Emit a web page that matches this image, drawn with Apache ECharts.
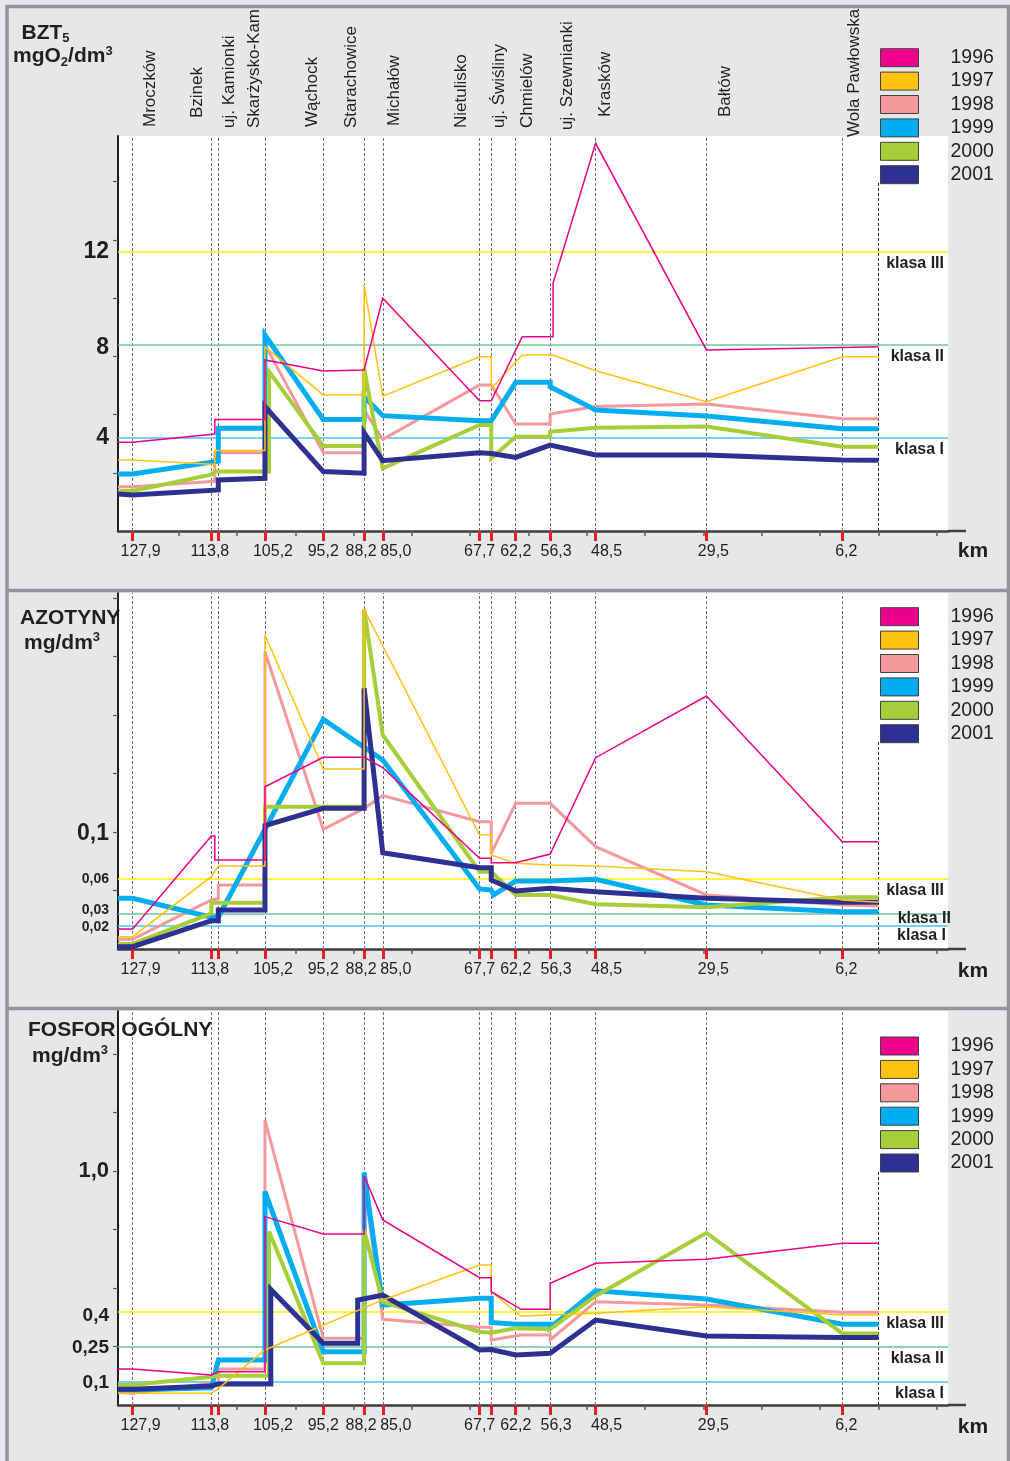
<!DOCTYPE html>
<html><head><meta charset="utf-8">
<script src="https://cdn.jsdelivr.net/npm/echarts@6.0.0/dist/echarts.min.js"></script>
<style>html,body{margin:0;padding:0;background:#e6e7e8}#c{width:1010px;height:1461px}</style>
</head><body><div id="c"></div>
<script>
// ---------------- DATA ----------------
const years = ['1996','1997','1998','1999','2000','2001'];
const stationKm = [127.9, 114.4, 113.2, 105.2, 95.2, 88.2, 85.0, 68.4, 66.4, 62.2, 56.3, 48.5, 29.5, 6.2];
const stationNames = ['Mroczków','Bzinek','uj. Kamionki','Skarżysko-Kam.','Wąchock','Starachowice','Michałów','Nietulisko','uj. Świśliny','Chmielów','uj. Szewnianki','Krasków','Bałtów','Wola Pawłowska'];
const kmLabelValues = [127.9, 113.8, 105.2, 95.2, 88.2, 85.0, 67.7, 62.2, 56.3, 48.5, 29.5, 6.2];
const kmLabels = ['127,9','113,8','105,2','95,2','88,2','85,0','67,7','62,2','56,3','48,5','29,5','6,2'];
const kmGridTicks = [120,110,100,90,80,70,60,50,40,30,20,10,0,-10];
const classNames = ['klasa III','klasa II','klasa I'];

// BZT5 [km, mgO2/dm3]
const bzt1996 = [[130.4,3.81],[127.9,3.81],[113.8,4.16],[113.8,4.79],[105.2,4.79],[105.2,7.34],[95.2,6.87],[88.2,6.91],[85.0,9.99],[68.4,5.59],[66.4,5.59],[61.1,8.34],[55.8,8.34],[55.8,10.63],[48.5,16.64],[29.5,7.77],[6.2,7.88],[0,7.91]];
const bzt1997 = [[130.4,3.05],[127.9,3.05],[114.4,2.86],[113.8,2.86],[113.8,3.45],[105.2,3.45],[105.2,7.9],[95.2,5.84],[88.2,5.84],[88.2,10.56],[85.0,5.79],[68.4,7.48],[66.4,7.48],[66.4,6.12],[61.1,7.55],[55.8,7.55],[48.5,6.88],[29.5,5.55],[6.2,7.48],[0,7.48]];
const bzt1998 = [[130.4,1.90],[127.9,1.90],[114.4,2.12],[113.8,2.12],[113.8,3.36],[105.2,3.36],[105.2,8.0],[95.2,3.36],[88.2,3.36],[88.2,5.19],[85.0,3.93],[68.4,6.27],[66.4,6.27],[62.2,4.59],[56.3,4.59],[56.3,5.02],[48.5,5.34],[29.5,5.45],[6.2,4.82],[0,4.82]];
const bzt1999 = [[130.4,2.45],[127.9,2.45],[113.2,3.0],[113.2,4.41],[105.2,4.41],[105.2,8.41],[95.2,4.79],[88.2,4.79],[88.2,5.77],[85.0,4.95],[68.4,4.73],[66.4,4.73],[62.2,6.38],[56.3,6.38],[56.3,6.19],[48.5,5.19],[29.5,4.94],[6.2,4.39],[0,4.39]];
const bzt2000 = [[130.4,1.72],[127.9,1.72],[114.4,2.42],[113.8,2.55],[104.5,2.55],[104.5,6.84],[95.2,3.65],[88.2,3.65],[88.2,6.98],[85.0,2.69],[68.4,4.55],[66.4,4.55],[66.4,3.12],[62.2,4.05],[56.3,4.05],[56.3,4.26],[48.5,4.43],[29.5,4.48],[6.2,3.62],[0,3.62]];
const bzt2001 = [[130.4,1.59],[127.9,1.55],[113.2,1.76],[113.2,2.19],[105.2,2.26],[105.2,5.34],[95.2,2.55],[88.2,2.48],[88.2,4.22],[85.0,3.02],[68.4,3.36],[66.4,3.33],[62.2,3.16],[56.3,3.69],[48.5,3.26],[29.5,3.26],[6.2,3.05],[0,3.04]];
const bztClass = [12, 8, 4];
const bztTickValues = [2.5, 5, 7.5, 10, 12.5, 15];
const bztLabelValues = [4, 8, 12];
const bztLabels = ['4', '8', '12'];

// AZOTYNY [km, mg/dm3]
const no1996 = [[130.4,0.0171],[127.9,0.0171],[114.4,0.0966],[113.8,0.0966],[113.8,0.0761],[105.2,0.0761],[105.2,0.1387],[95.2,0.1638],[88.2,0.1638],[85.0,0.155],[68.4,0.0775],[66.4,0.0775],[66.4,0.0738],[62.2,0.0738],[56.3,0.0812],[48.5,0.1635],[29.5,0.2162],[6.2,0.0917],[0,0.0917]];
const no1997 = [[130.4,0.0105],[127.9,0.0105],[114.4,0.0618],[113.2,0.0709],[105.2,0.0709],[105.2,0.2684],[95.2,0.1538],[88.2,0.1538],[88.2,0.2903],[68.4,0.0974],[66.4,0.0974],[66.4,0.0803],[62.2,0.0732],[56.3,0.0718],[48.5,0.0709],[29.5,0.0661],[6.2,0.0419],[0,0.040]];
const no1998 = [[130.4,0.0083],[127.9,0.0083],[114.4,0.0419],[113.2,0.0430],[113.2,0.0547],[105.2,0.0547],[105.2,0.2541],[95.2,0.1023],[88.2,0.1202],[85.0,0.1311],[68.4,0.1088],[66.4,0.1088],[66.4,0.0818],[62.2,0.1245],[56.3,0.1245],[48.5,0.0875],[29.5,0.0462],[6.2,0.0376],[0,0.0368]];
const no1999 = [[130.4,0.0433],[127.9,0.0433],[114.4,0.0271],[113.2,0.0271],[95.2,0.1963],[85.0,0.1615],[68.4,0.0513],[66.4,0.0504],[66.0,0.0462],[62.2,0.0581],[56.3,0.0581],[48.5,0.0596],[29.5,0.0376],[6.2,0.0319],[0,0.0319]];
const no2000 = [[130.4,0.0043],[127.9,0.0043],[114.4,0.0305],[114.4,0.0396],[105.2,0.0396],[105.2,0.1216],[88.2,0.1216],[88.2,0.2903],[85.0,0.1829],[68.4,0.0661],[66.4,0.0661],[62.2,0.0462],[56.3,0.0462],[48.5,0.0382],[29.5,0.0356],[6.2,0.0442],[0,0.0442]];
const no2001 = [[130.4,0.002],[127.9,0.002],[114.4,0.0242],[113.2,0.0242],[113.2,0.0333],[105.2,0.0333],[105.2,0.1054],[95.2,0.1202],[88.2,0.1202],[88.2,0.2228],[85.0,0.0823],[68.4,0.0695],[66.4,0.0695],[66.4,0.059],[62.2,0.0496],[56.3,0.0519],[48.5,0.049],[29.5,0.0433],[6.2,0.0399],[0,0.0399]];
const noClass = [0.06, 0.03, 0.02];
const noTickValues = [0.05, 0.1, 0.15, 0.2, 0.25, 0.3];
const noLabelValues = [0.02, 0.03, 0.06, 0.1];
const noLabels = ['0,02', '0,03', '0,06', '0,1'];

// FOSFOR OGÓLNY [km, mg/dm3]
const p1996 = [[130.4,0.154],[127.9,0.154],[114.4,0.128],[113.2,0.142],[105.2,0.142],[105.2,0.805],[95.2,0.731],[88.2,0.731],[88.2,0.98],[85.0,0.791],[68.4,0.544],[66.4,0.544],[66.4,0.484],[61.3,0.409],[56.3,0.409],[56.3,0.52],[48.5,0.606],[29.5,0.623],[6.2,0.691],[0,0.691]];
const p1997 = [[130.4,0.05],[127.9,0.05],[114.4,0.05],[113.2,0.07],[105.2,0.235],[85.0,0.449],[68.4,0.598],[66.4,0.598],[66.4,0.484],[61.3,0.38],[56.3,0.385],[48.5,0.392],[29.5,0.42],[6.2,0.385],[0,0.385]];
const p1998 = [[130.4,0.053],[127.9,0.05],[114.4,0.093],[113.2,0.093],[113.2,0.154],[105.2,0.154],[105.2,1.218],[95.2,0.285],[88.2,0.285],[88.2,0.95],[85.0,0.366],[68.4,0.332],[66.4,0.332],[66.4,0.278],[61.3,0.299],[56.3,0.299],[56.3,0.278],[48.5,0.441],[29.5,0.427],[6.2,0.396],[0,0.396]];
const p1999 = [[130.4,0.064],[127.9,0.064],[114.4,0.074],[113.2,0.192],[105.2,0.192],[105.2,0.912],[95.2,0.228],[88.2,0.228],[88.2,0.994],[85.0,0.427],[68.4,0.456],[66.4,0.456],[66.4,0.353],[62.2,0.345],[56.3,0.345],[56.3,0.33],[48.5,0.488],[29.5,0.453],[6.2,0.345],[0,0.345]];
const p2000 = [[130.4,0.085],[127.9,0.085],[114.4,0.121],[113.2,0.125],[104.5,0.125],[104.5,0.741],[95.2,0.178],[88.2,0.178],[88.2,0.748],[85.0,0.441],[68.4,0.313],[66.4,0.309],[62.2,0.328],[56.3,0.324],[48.5,0.466],[29.5,0.736],[6.2,0.306],[0,0.306]];
const p2001 = [[130.4,0.067],[127.9,0.067],[114.4,0.081],[113.2,0.09],[104.2,0.09],[104.2,0.494],[95.2,0.264],[89.3,0.264],[89.3,0.449],[85.0,0.47],[68.4,0.235],[66.4,0.237],[62.2,0.214],[56.3,0.221],[48.5,0.363],[29.5,0.295],[6.2,0.288],[0,0.288]];
const pClass = [0.4, 0.25, 0.1];
const pTickValues = [0.25, 0.5, 0.75, 1.0, 1.25, 1.5];
const pLabelValues = [0.1, 0.25, 0.4, 1.0];
const pLabels = ['0,1', '0,25', '0,4', '1,0'];

// ---------------- STYLE / LAYOUT ----------------
const FONT = '"Liberation Sans", Arial, Helvetica, sans-serif';
const TXT = '#231f20';
const yearColors = ['#ec008c', '#ffc20e', '#f4989b', '#00aeef', '#a6ce39', '#2e3192'];
const yearWidths = [1.5, 1.5, 3, 5, 4, 5];
const yearZ = [9, 8, 3, 4, 5, 6];
const classColors = ['#fff200', '#6cc59a', '#4ec3ee'];
const X_MIN = -11.92, X_MAX = 130.4;
const LEFT = 118, RIGHT_PX = 948, AXIS_END = 966;
const labelShift = [8, -5, 8, 0, -3, 13, -4, 0, 6, 11, 7, 4];
const stationLabelPos = [[150,127],[197,118],[229,128],[254,128],[312,127],[351,128],[394,126],[461,128],[499,128],[527,128],[567,130],[605,117],[725,117],[854,137]];

const panels = [
  {top:136, bottom:531, yMax:395/23.3, series:[bzt1996,bzt1997,bzt1998,bzt1999,bzt2000,bzt2001],
   classVals:bztClass, tickVals:bztTickValues, labelVals:bztLabelValues, labels:bztLabels,
   labelSizes:[23,23,23], labelVShift:[0,3,0],
   classDist:[4,4,4], endTop:14.94, legendTop:47.7},
  {top:593, bottom:949, yMax:356/1170, series:[no1996,no1997,no1998,no1999,no2000,no2001],
   classVals:noClass, tickVals:noTickValues, labelVals:noLabelValues, labels:noLabels,
   labelSizes:[14,14,14,23], labelVShift:[2,-4,0,2],
   classDist:[4,-3,2], endTop:0.177, legendTop:606.7},
  {top:1011, bottom:1405, yMax:394/234, series:[p1996,p1997,p1998,p1999,p2000,p2001],
   classVals:pClass, tickVals:pTickValues, labelVals:pLabelValues, labels:pLabels,
   labelSizes:[19,19,19,22], labelVShift:[1,1,4,0],
   classDist:[4,4,4], endTop:0.996, legendTop:1036}
];

function nearestIdx(arr, v){let b=0,d=1e9;arr.forEach((a,i)=>{const e=Math.abs(a-v);if(e<d){d=e;b=i;}});return b;}

const kmRich = {};
labelShift.forEach((s,i)=>{
  kmRich['o'+i] = {fontSize:16, fontFamily:FONT, color:TXT, padding: s>=0 ? [0,0,0,2*s] : [0,-2*s,0,0]};
});

const grid = [], xAxis = [], yAxis = [], series = [], legend = [], graphic = [];

function yLabelAxis(p, i, vals, withLine){
  const rich = {};
  p.labelVals.forEach((v,k)=>{
    const d = p.labelVShift[k];
    rich['y'+k] = {fontSize:p.labelSizes[k], fontWeight:'bold', fontFamily:FONT, color:TXT, lineHeight:p.labelSizes[k],
      padding: d>=0 ? [2*d,0,0,0] : [0,0,-2*d,0]};
  });
  return {
    type:'value', gridIndex:i, min:0, max:p.yMax, position:'left', offset:0,
    axisLine:{show:withLine, onZero:false, lineStyle:{color:TXT, width:2}},
    axisTick:withLine ? {show:true, customValues:p.tickVals, length:5, lineStyle:{color:'#58595b', width:1.2}} : {show:false},
    axisLabel:{show:true, customValues:vals, margin:9, hideOverlap:false,
      formatter:(v)=>{const k=nearestIdx(p.labelVals,v);return '{y'+k+'|'+p.labels[k]+'}';}, rich},
    splitLine:{show:false}
  };
}

panels.forEach((p, i) => {
  grid.push({left:LEFT, top:p.top, width:RIGHT_PX-LEFT, height:p.bottom-p.top, show:true, backgroundColor:'#ffffff', borderWidth:0, containLabel:false});
  xAxis.push({
    type:'value', gridIndex:i, min:X_MIN, max:X_MAX, inverse:true, position:'bottom',
    axisLine:{show:true, onZero:false, lineStyle:{color:'#3d3d3f', width:2.5}},
    axisTick:{show:true, customValues:kmGridTicks, length:5, lineStyle:{color:'#58595b', width:1.5}},
    axisLabel:{show:true, customValues:kmLabelValues, margin:13, hideOverlap:false,
      formatter:(v)=>{const k=nearestIdx(kmLabelValues,v);return '{o'+k+'|'+kmLabels[k]+'}';}, rich:kmRich},
    splitLine:{show:false}
  });
  // labels split over two overlaid axes so that close labels are not dropped
  yAxis.push(yLabelAxis(p, i, p.labelVals.filter((v,k)=>k%2===0), true));
});
panels.forEach((p, i) => {
  yAxis.push(yLabelAxis(p, i, p.labelVals.filter((v,k)=>k%2===1), false));
});
// red station ticks (second x axis per grid)
panels.forEach((p, i) => {
  xAxis.push({
    type:'value', gridIndex:i, min:X_MIN, max:X_MAX, inverse:true, position:'bottom', offset:0,
    axisLine:{show:false, onZero:false}, axisLabel:{show:false}, splitLine:{show:false},
    axisTick:{show:true, customValues:stationKm, length:10, lineStyle:{color:'#ed1c24', width:3}}
  });
});

panels.forEach((p, i) => {
  const md = [];
  stationKm.forEach(km => md.push({xAxis:km, lineStyle:{type:[3,2], color:'#6d6e71', width:1}, label:{show:false}}));
  md.push([{coord:[0,p.endTop], lineStyle:{type:[3,2], color:TXT, width:1}, label:{show:false}}, {coord:[0,0]}]);
  p.classVals.forEach((v,k)=> md.push({yAxis:v, lineStyle:{type:'solid', color:classColors[k], width:1.5},
    label:{show:true, position:'insideStartBottom', formatter:classNames[k], fontSize:16, fontWeight:'bold', color:TXT, fontFamily:FONT, distance:p.classDist[k]}}));
  series.push({type:'line', name:'_ref'+i, xAxisIndex:i, yAxisIndex:i, data:[], silent:true, animation:false,
    markLine:{silent:true, z:1, symbol:['none','none'], animation:false, data:md}});
  years.forEach((y, k) => {
    series.push({name:y, type:'line', xAxisIndex:i, yAxisIndex:i, data:p.series[k], symbol:'none', showSymbol:false,
      color:yearColors[k], itemStyle:{color:yearColors[k]},
      lineStyle:{color:yearColors[k], width:yearWidths[k], join:'miter', miterLimit:4},
      z:yearZ[k], silent:true, animation:false});
  });
  legend.push({data:years, orient:'vertical', left:880, top:p.legendTop, padding:0,
    itemWidth:38, itemHeight:18, itemGap:3.4, icon:'rect', selectedMode:false,
    itemStyle:{borderColor:'#414042', borderWidth:1},
    textStyle:{fontSize:19.5, color:TXT, fontFamily:FONT, lineHeight:18, padding:[0,0,0,27]}});
  graphic.push({type:'line', silent:true, z:50, shape:{x1:RIGHT_PX, y1:p.bottom, x2:AXIS_END, y2:p.bottom}, style:{stroke:'#3d3d3f', lineWidth:2.5}});
});

const kmY = [551, 971, 1427];
kmY.forEach(y => graphic.push({type:'text', silent:true, z:50, x:973, y:y, style:{text:'km', fontSize:21, fontWeight:'bold', fontFamily:FONT, fill:TXT, align:'center', verticalAlign:'middle'}}));

// frame + separators
graphic.push({type:'rect', silent:true, z:60, shape:{x:7, y:6.5, width:1001.5, height:1480}, style:{fill:null, stroke:'#939598', lineWidth:3.5}});
[590.5, 1008.5].forEach(y => graphic.push({type:'line', silent:true, z:60, shape:{x1:6, y1:y, x2:1010, y2:y}, style:{stroke:'#939598', lineWidth:3.5}}));

// titles
const tRich = {
  b:{fontSize:21, fontWeight:'bold', fontFamily:FONT, fill:TXT, lineHeight:24},
  s:{fontSize:13, fontWeight:'bold', fontFamily:FONT, fill:TXT, lineHeight:14, verticalAlign:'bottom'},
  p:{fontSize:13, fontWeight:'bold', fontFamily:FONT, fill:TXT, lineHeight:10, verticalAlign:'top'}
};
const titles = [
  [21.5, 33.3, '{b|BZT}{s|5}'], [13, 56.7, '{b|mgO}{s|2}{b|/dm}{p|3}'],
  [20, 618, '{b|AZOTYNY}'], [24, 643, '{b|mg/dm}{p|3}'],
  [28, 1030, '{b|FOSFOR OGÓLNY}'], [32, 1056, '{b|mg/dm}{p|3}']
];
titles.forEach(t => graphic.push({type:'text', silent:true, z:50, x:t[0], y:t[1], style:{text:t[2], rich:tRich, align:'left', verticalAlign:'middle'}}));

// station names (rotated)
stationNames.forEach((n, k) => graphic.push({type:'text', silent:true, z:50, x:stationLabelPos[k][0], y:stationLabelPos[k][1], rotation:Math.PI/2,
  style:{text:n, fontSize:17, fontFamily:FONT, fill:TXT, align:'left', verticalAlign:'middle'}}));

const chart = echarts.init(document.getElementById('c'), null, {renderer:'canvas', width:1010, height:1461});
chart.setOption({
  backgroundColor:'#e6e7e8', animation:false,
  textStyle:{fontFamily:FONT},
  grid, xAxis, yAxis, series, legend, graphic
});
</script></body></html>
